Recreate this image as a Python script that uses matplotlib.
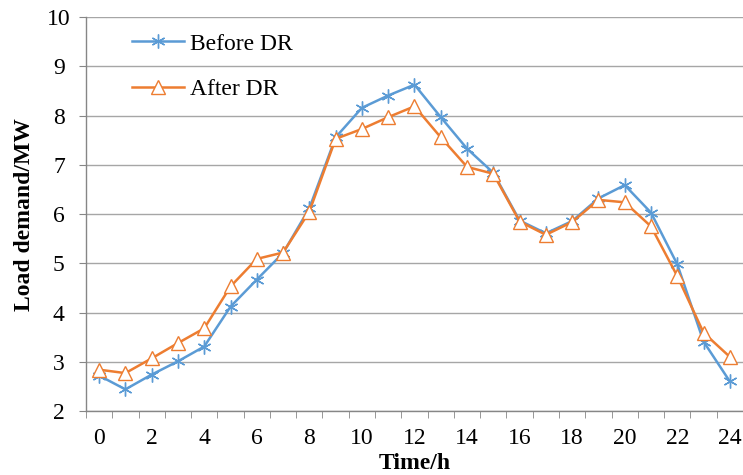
import numpy as np
import matplotlib.pyplot as plt
from matplotlib.ticker import MultipleLocator

plt.rcParams['font.family'] = ['Liberation Serif', 'DejaVu Serif']

# hourly load
hours = list(range(25))
before_dr = [2.72, 2.44, 2.74, 3.01, 3.31, 4.12, 4.67, 5.21, 6.12, 7.56,
             8.16, 8.41, 8.63, 7.97, 7.33, 6.84, 5.87, 5.61, 5.86, 6.32,
             6.59, 6.03, 4.98, 3.41, 2.60]
after_dr = [2.84, 2.77, 3.07, 3.38, 3.68, 4.53, 5.09, 5.22, 6.05, 7.53,
            7.73, 7.97, 8.19, 7.56, 6.96, 6.82, 5.85, 5.58, 5.84, 6.29,
            6.24, 5.75, 4.74, 3.59, 3.10]
xtick_vals = list(range(0, 25, 2))
ytick_vals = list(range(2, 11))

blue = '#5B9BD5'
orange = '#ED7D31'
grid_c = '#A6A6A6'
axis_c = '#868686'

fig = plt.figure(figsize=(7.43, 4.75), dpi=100)
ax = fig.add_axes([0.1157, 0.1347, 0.8843, 0.829])

ax.plot(hours, before_dr, color=blue, lw=1.8, marker=(6, 2, 0),
        markersize=10, markeredgewidth=1.0, label='Before DR', zorder=3)
ax.plot(hours, after_dr, color=orange, lw=1.8, marker='^',
        markersize=10, markerfacecolor='white', markeredgecolor=orange,
        markeredgewidth=1.0, label='After DR', zorder=4)

ax.set_xlim(-0.5, 24.5)
ax.set_ylim(2, 10)
ax.set_xticks(xtick_vals)
ax.xaxis.set_minor_locator(MultipleLocator(1, offset=0.5))
ax.set_yticks(ytick_vals)
ax.tick_params(axis='x', which='major', length=0, labelsize=17, pad=12)
ax.tick_params(axis='x', which='minor', length=5, color=axis_c, direction='out')
ax.tick_params(axis='y', length=5, color=axis_c, labelsize=17, pad=14.5)
for lab in ax.get_yticklabels():
    lab.set_horizontalalignment('center')

ax.grid(axis='y', color=grid_c, lw=1.0)
ax.set_axisbelow(True)
for s in ['top', 'right']:
    ax.spines[s].set_visible(False)
for s in ['left', 'bottom']:
    ax.spines[s].set_color(axis_c)
    ax.spines[s].set_linewidth(1.0)

ax.set_xlabel('Time/h', fontsize=17, fontweight='bold', labelpad=3)
ax.set_ylabel('Load demand/MW', fontsize=17, fontweight='bold', labelpad=9)

ax.legend(loc='upper left', bbox_to_anchor=(0.07, 0.96), frameon=False,
          borderaxespad=0, borderpad=0,
          fontsize=17, handlelength=2.2, labelspacing=1.03, handletextpad=0.25)

fig.savefig('out.png', dpi=100)
